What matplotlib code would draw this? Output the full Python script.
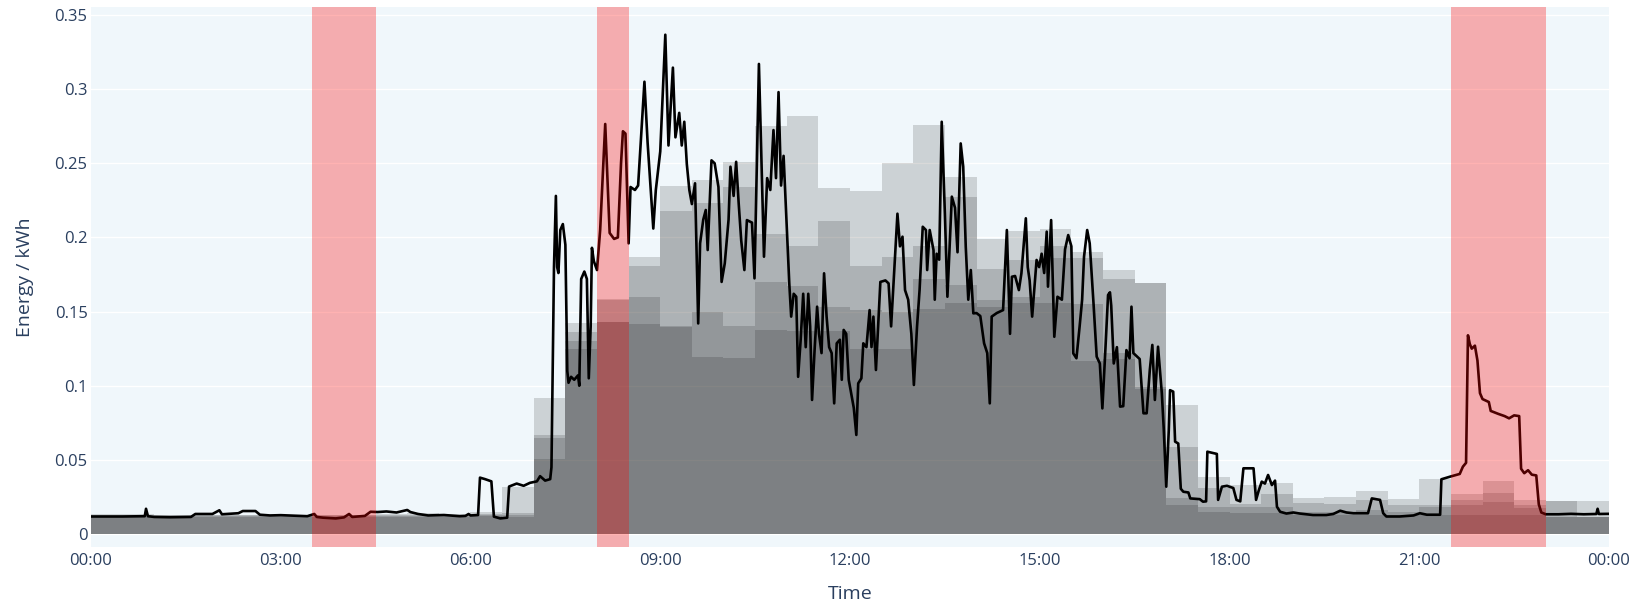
import matplotlib
matplotlib.use("Agg")
import matplotlib.pyplot as plt
import numpy as np

# half-hour slots, 00:00 .. 23:30 (hours)
slot_start = [i * 0.5 for i in range(48)]

# four historical layers per slot (lowest -> highest), kWh
layer_1 = [0.0115, 0.0115, 0.0115, 0.0115, 0.0115, 0.0115, 0.0115, 0.0115, 0.0115, 0.0115, 0.0115, 0.0115,
           0.012, 0.0117, 0.0504, 0.125, 0.143, 0.1416, 0.1398, 0.1196, 0.1185, 0.1376, 0.137, 0.137,
           0.125, 0.125, 0.152, 0.156, 0.153, 0.156, 0.1555, 0.117, 0.118, 0.098, 0.0196, 0.015,
           0.014, 0.014, 0.0128, 0.0128, 0.0128, 0.0128, 0.0128, 0.0128, 0.0128, 0.0128, 0.0117, 0.0117]
layer_2 = [0.012, 0.012, 0.012, 0.012, 0.012, 0.012, 0.012, 0.012, 0.012, 0.012, 0.012, 0.012,
           0.0125, 0.0125, 0.0645, 0.130, 0.143, 0.160, 0.140, 0.150, 0.140, 0.170, 0.167, 0.153,
           0.151, 0.150, 0.172, 0.168, 0.158, 0.160, 0.186, 0.155, 0.122, 0.099, 0.024, 0.018,
           0.018, 0.018, 0.015, 0.015, 0.016, 0.015, 0.0185, 0.0196, 0.0215, 0.0175, 0.0117, 0.0117]
layer_3 = [0.0125, 0.0125, 0.0125, 0.0125, 0.0125, 0.0125, 0.0125, 0.0125, 0.0125, 0.0125, 0.0125, 0.0125,
           0.0135, 0.014, 0.067, 0.136, 0.158, 0.181, 0.2175, 0.223, 0.234, 0.2025, 0.194, 0.211,
           0.181, 0.187, 0.194, 0.2275, 0.179, 0.185, 0.194, 0.186, 0.172, 0.169, 0.059, 0.031,
           0.020, 0.027, 0.0207, 0.020, 0.023, 0.0196, 0.0196, 0.023, 0.0275, 0.0196, 0.0225, 0.0117]
layer_4 = [0.0135, 0.0135, 0.013, 0.013, 0.013, 0.013, 0.013, 0.0125, 0.013, 0.0135, 0.014, 0.0135,
           0.015, 0.032, 0.092, 0.142, 0.1585, 0.187, 0.235, 0.239, 0.251, 0.275, 0.282, 0.233,
           0.231, 0.250, 0.276, 0.241, 0.199, 0.204, 0.206, 0.190, 0.178, 0.169, 0.087, 0.0387,
           0.033, 0.0346, 0.024, 0.025, 0.029, 0.0234, 0.0373, 0.0267, 0.0355, 0.0229, 0.0225, 0.0225]

# measured consumption for the day (hour, kWh)
line_t = [0.00, 0.50, 0.85, 0.87, 0.90, 1.00, 1.25, 1.58, 1.65, 1.92, 2.03, 2.07, 2.33, 2.40, 2.60, 2.67,
          2.83, 3.00, 3.25, 3.42, 3.53, 3.57, 3.67, 3.87, 4.00, 4.08, 4.13, 4.33, 4.42, 4.53, 4.67, 4.83,
          4.93, 5.00, 5.05, 5.17, 5.33, 5.58, 5.83, 5.92, 5.97, 6.00, 6.12, 6.15, 6.23, 6.33, 6.37, 6.47,
          6.58, 6.61, 6.73, 6.84, 6.94, 7.05, 7.10, 7.18, 7.26, 7.28, 7.32, 7.35, 7.37, 7.39, 7.42, 7.46,
          7.50, 7.53, 7.55, 7.59, 7.64, 7.70, 7.72, 7.75, 7.80, 7.84, 7.87, 7.90, 7.92, 7.95, 8.00, 8.05,
          8.13, 8.20, 8.27, 8.33, 8.38, 8.41, 8.45, 8.50, 8.53, 8.60, 8.65, 8.75, 8.80, 8.89, 8.93, 9.00,
          9.08, 9.13, 9.20, 9.24, 9.30, 9.34, 9.38, 9.42, 9.46, 9.50, 9.55, 9.60, 9.63, 9.68, 9.72, 9.75,
          9.81, 9.86, 9.92, 9.97, 10.02, 10.08, 10.11, 10.16, 10.20, 10.24, 10.28, 10.33, 10.37, 10.45,
          10.49, 10.56, 10.60, 10.64, 10.69, 10.74, 10.79, 10.83, 10.87, 10.91, 10.95, 11.04, 11.07,
          11.11, 11.15, 11.18, 11.22, 11.26, 11.30, 11.34, 11.37, 11.40, 11.44, 11.48, 11.51, 11.55,
          11.59, 11.63, 11.67, 11.71, 11.75, 11.79, 11.84, 11.87, 11.90, 11.94, 11.98, 12.06, 12.10,
          12.13, 12.18, 12.21, 12.26, 12.31, 12.34, 12.37, 12.41, 12.48, 12.56, 12.61, 12.65, 12.69,
          12.75, 12.79, 12.83, 12.87, 12.92, 12.97, 13.01, 13.06, 13.10, 13.15, 13.20, 13.22, 13.26,
          13.32, 13.34, 13.37, 13.41, 13.45, 13.50, 13.54, 13.61, 13.66, 13.70, 13.75, 13.79, 13.83,
          13.87, 13.91, 13.95, 14.00, 14.06, 14.12, 14.17, 14.21, 14.24, 14.32, 14.42, 14.48, 14.53,
          14.56, 14.61, 14.67, 14.71, 14.78, 14.81, 14.84, 14.88, 14.95, 14.99, 15.03, 15.07, 15.11,
          15.13, 15.18, 15.23, 15.28, 15.35, 15.40, 15.45, 15.50, 15.53, 15.58, 15.63, 15.67, 15.70,
          15.75, 15.79, 15.85, 15.90, 15.95, 15.99, 16.04, 16.08, 16.11, 16.13, 16.17, 16.22, 16.27,
          16.32, 16.37, 16.42, 16.45, 16.48, 16.53, 16.58, 16.64, 16.69, 16.74, 16.78, 16.82, 16.87,
          16.93, 16.96, 17.00, 17.04, 17.06, 17.11, 17.14, 17.19, 17.23, 17.27, 17.35, 17.38, 17.53,
          17.58, 17.63, 17.65, 17.80, 17.82, 17.88, 17.96, 18.06, 18.11, 18.17, 18.22, 18.38, 18.42,
          18.46, 18.51, 18.56, 18.61, 18.67, 18.72, 18.75, 18.80, 18.90, 19.01, 19.11, 19.32, 19.53,
          19.64, 19.75, 19.85, 19.96, 20.19, 20.25, 20.38, 20.43, 20.48, 20.69, 20.91, 21.01, 21.12,
          21.33, 21.35, 21.49, 21.64, 21.69, 21.74, 21.77, 21.80, 21.83, 21.88, 21.92, 21.96, 22.00,
          22.10, 22.13, 22.25, 22.35, 22.42, 22.50, 22.58, 22.61, 22.66, 22.72, 22.78, 22.85, 22.89,
          22.93, 23.00, 23.20, 23.40, 23.60, 23.80, 23.82, 23.84, 24.00]
line_v = [0.0118, 0.0118, 0.012, 0.017, 0.012, 0.0115, 0.0113, 0.0115, 0.0135, 0.0135, 0.016, 0.0133,
          0.014, 0.0155, 0.0155, 0.013, 0.0125, 0.0127, 0.0123, 0.012, 0.0135, 0.0115, 0.011, 0.0105,
          0.0112, 0.0135, 0.0115, 0.0122, 0.015, 0.0148, 0.0152, 0.0145, 0.0155, 0.0162, 0.0148, 0.0135,
          0.0125, 0.0128, 0.012, 0.0122, 0.0135, 0.0125, 0.0128, 0.038, 0.037, 0.0355, 0.0117, 0.0105,
          0.011, 0.032, 0.034, 0.0325, 0.0345, 0.0355, 0.039, 0.036, 0.037, 0.045, 0.18, 0.228, 0.18,
          0.176, 0.205, 0.209, 0.195, 0.11, 0.102, 0.106, 0.104, 0.107, 0.10, 0.172, 0.177, 0.172,
          0.105, 0.14, 0.193, 0.184, 0.178, 0.205, 0.2765, 0.203, 0.199, 0.20, 0.25, 0.2716, 0.27,
          0.196, 0.234, 0.232, 0.235, 0.305, 0.264, 0.206, 0.232, 0.258, 0.3367, 0.262, 0.3145, 0.2675,
          0.284, 0.262, 0.278, 0.2495, 0.232, 0.2225, 0.2365, 0.142, 0.196, 0.212, 0.2185, 0.1915,
          0.252, 0.25, 0.234, 0.170, 0.1825, 0.212, 0.2477, 0.228, 0.251, 0.223, 0.198, 0.178, 0.2117,
          0.21, 0.1724, 0.317, 0.252, 0.187, 0.24, 0.232, 0.2724, 0.24, 0.298, 0.235, 0.255, 0.169,
          0.1466, 0.162, 0.16, 0.106, 0.131, 0.162, 0.126, 0.162, 0.14, 0.0904, 0.124, 0.1533, 0.135,
          0.122, 0.1758, 0.1466, 0.126, 0.122, 0.0881, 0.1286, 0.131, 0.104, 0.1376, 0.135, 0.104,
          0.085, 0.0668, 0.1016, 0.105, 0.1286, 0.126, 0.151, 0.126, 0.1466, 0.1106, 0.170, 0.171,
          0.169, 0.14, 0.17, 0.216, 0.194, 0.2005, 0.1645, 0.158, 0.135, 0.1005, 0.14, 0.1645, 0.2072,
          0.205, 0.178, 0.205, 0.1915, 0.158, 0.189, 0.185, 0.278, 0.216, 0.160, 0.2275, 0.22, 0.19,
          0.2634, 0.2477, 0.1938, 0.158, 0.178, 0.1488, 0.149, 0.147, 0.1286, 0.122, 0.0881, 0.1466,
          0.149, 0.151, 0.205, 0.135, 0.1735, 0.174, 0.1645, 0.1758, 0.2129, 0.18, 0.171, 0.1466,
          0.1848, 0.18, 0.189, 0.176, 0.2039, 0.1668, 0.2117, 0.133, 0.16, 0.158, 0.192, 0.2016, 0.194,
          0.1218, 0.1185, 0.1398, 0.158, 0.187, 0.205, 0.196, 0.1555, 0.1196, 0.115, 0.0847, 0.1263,
          0.1612, 0.163, 0.154, 0.115, 0.126, 0.0859, 0.0862, 0.124, 0.1185, 0.1533, 0.122, 0.12,
          0.118, 0.0814, 0.0814, 0.1106, 0.1275, 0.0904, 0.1263, 0.0949, 0.0713, 0.0319, 0.07, 0.097,
          0.096, 0.0623, 0.061, 0.0305, 0.0285, 0.028, 0.024, 0.0235, 0.0218, 0.022, 0.0555, 0.054,
          0.023, 0.0319, 0.0325, 0.031, 0.023, 0.022, 0.0443, 0.0443, 0.023, 0.029, 0.0353, 0.034,
          0.0398, 0.033, 0.036, 0.0184, 0.015, 0.0138, 0.0145, 0.0138, 0.0128, 0.0128, 0.0135, 0.0157,
          0.0145, 0.014, 0.014, 0.024, 0.023, 0.014, 0.0118, 0.0118, 0.0125, 0.014, 0.013, 0.013,
          0.0369, 0.0387, 0.0405, 0.0454, 0.048, 0.134, 0.128, 0.125, 0.127, 0.117, 0.095, 0.091,
          0.089, 0.083, 0.081, 0.0795, 0.078, 0.080, 0.0795, 0.044, 0.041, 0.043, 0.04, 0.0395, 0.02,
          0.0145, 0.0133, 0.0133, 0.0136, 0.0133, 0.0135, 0.017, 0.0135, 0.0136]

# flagged periods (start, end) in hours
flag_periods = [(3.5, 4.5), (8.0, 8.5), (21.5, 23.0)]

tick_hours = [0, 3, 6, 9, 12, 15, 18, 21, 24]
tick_labels = ["00:00", "03:00", "06:00", "09:00", "12:00", "15:00", "18:00", "21:00", "00:00"]
y_ticks = [0, 0.05, 0.1, 0.15, 0.2, 0.25, 0.3, 0.35]
y_labels = ["0", "0.05", "0.1", "0.15", "0.2", "0.25", "0.3", "0.35"]

text_col = "#2a3f5f"
plt.rcParams["font.family"] = ["Open Sans", "DejaVu Sans"]

fig = plt.figure(figsize=(16.47, 6.05), dpi=100)
ax = fig.add_axes([0.05525, 0.09587, 0.97693 - 0.05525, 0.98843 - 0.09587])
ax.set_facecolor("#F0F7FB")

# stacked translucent layers -> darker where they overlap
edges = np.append(slot_start, 24.0)
for layer in [layer_1, layer_2, layer_3, layer_4]:
    vals = np.append(layer, layer[-1])
    ax.fill_between(edges, 0, vals, step="post", color="black", alpha=0.15,
                    linewidth=0, zorder=2)

ax.plot(line_t, line_v, color="black", linewidth=1.9, zorder=3)

for start, end in flag_periods:
    ax.axvspan(start, end, color="red", alpha=0.3, linewidth=0, zorder=4)

ax.set_xlim(0, 24)
ax.set_ylim(-0.00877, 0.3554)
ax.set_xticks(tick_hours)
ax.set_xticklabels(tick_labels)
ax.set_yticks(y_ticks)
ax.set_yticklabels(y_labels)
ax.tick_params(axis="both", length=0, labelsize=12, colors=text_col)
ax.tick_params(axis="y", pad=2.5)
ax.tick_params(axis="x", pad=4)
ax.grid(axis="y", color="white", linewidth=1.0, zorder=1)
ax.set_axisbelow(True)
for s in ax.spines.values():
    s.set_visible(False)

ax.set_xlabel("Time", fontsize=14, color=text_col)
ax.set_ylabel("Energy / kWh", fontsize=14, color=text_col)
ax.xaxis.set_label_coords(0.5, -0.087)
ax.yaxis.set_label_coords(-0.0435, 0.5)
ax.xaxis.label.set_va("center")
ax.yaxis.label.set_va("center")

fig.savefig("out.png", dpi=100, facecolor="white")
